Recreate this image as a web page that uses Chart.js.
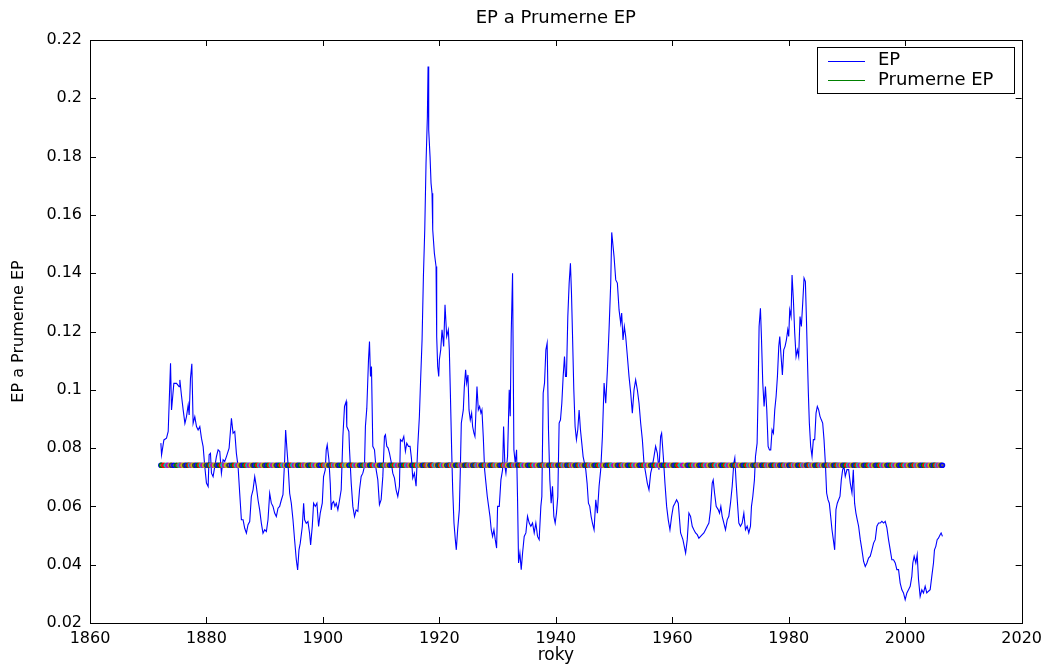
<!DOCTYPE html>
<html>
<head>
<meta charset="utf-8">
<script src="https://cdn.jsdelivr.net/npm/chart.js@4.4.1/dist/chart.umd.min.js"></script>
<style>
  html, body { margin: 0; padding: 0; background: #fff; }
</style>
</head>
<body>
<canvas id="chart" width="1048" height="666"></canvas>
<script>
// data
const years = [
  1872.17, 1872.29, 1872.69, 1873.14, 1873.43, 1873.83, 1874.0, 1874.4, 1874.86, 1875.3,
  1875.43, 1875.7, 1876.0, 1876.3, 1876.57, 1876.86, 1877.03, 1877.26, 1877.49, 1877.71,
  1878.0, 1878.29, 1878.57, 1878.86, 1879.14, 1879.43, 1879.71, 1880.0, 1880.29, 1880.46,
  1880.69, 1880.86, 1881.14, 1881.43, 1881.71, 1882.0, 1882.29, 1882.57, 1882.86, 1883.14,
  1883.43, 1883.89, 1884.29, 1884.57, 1884.86, 1885.14, 1885.43, 1885.71, 1886.0, 1886.29,
  1886.57, 1886.86, 1887.14, 1887.43, 1887.71, 1888.0, 1888.29, 1888.57, 1888.86, 1889.14,
  1889.43, 1889.71, 1890.0, 1890.29, 1890.57, 1890.86, 1891.14, 1891.43, 1891.71, 1892.0,
  1892.29, 1892.57, 1892.86, 1893.14, 1893.43, 1893.6, 1893.83, 1894.0, 1894.29, 1894.57,
  1894.86, 1895.14, 1895.43, 1895.66, 1895.89, 1896.11, 1896.46, 1896.69, 1896.86, 1897.14,
  1897.43, 1897.71, 1897.89, 1898.17, 1898.4, 1898.69, 1898.97, 1899.26, 1899.54, 1899.89,
  1900.11, 1900.4, 1900.57, 1900.74, 1901.03, 1901.26, 1901.43, 1901.6, 1901.83, 1902.06,
  1902.29, 1902.57, 1902.86,
  1903.14, 1903.43, 1903.71, 1904.0, 1904.1, 1904.46, 1904.57, 1904.86, 1905.14, 1905.43,
  1905.71, 1906.0, 1906.29, 1906.57, 1906.86, 1907.14, 1907.3, 1907.54, 1907.83, 1908.0,
  1908.17, 1908.34, 1908.57, 1908.86, 1909.14, 1909.43, 1909.71, 1910.0, 1910.29, 1910.57,
  1910.74, 1910.97, 1911.2, 1911.43, 1911.71, 1912.0, 1912.29, 1912.57, 1912.86, 1913.14,
  1913.31, 1913.6, 1913.89, 1914.17, 1914.4, 1914.69, 1914.97, 1915.2, 1915.43, 1915.71,
  1916.0, 1916.29, 1916.57, 1916.74, 1917.03, 1917.26, 1917.49, 1917.71, 1917.94, 1918.06,
  1918.17, 1918.4, 1918.57, 1918.74, 1918.86, 1919.14, 1919.43, 1919.54, 1919.71, 1919.89,
  1920.0, 1920.23, 1920.46, 1920.74, 1920.97, 1921.26, 1921.54, 1921.71, 1921.89, 1922.11,
  1922.29, 1922.51, 1922.74, 1922.91, 1923.14, 1923.43, 1923.6, 1923.77, 1924.11, 1924.29,
  1924.51, 1924.69, 1924.91, 1925.09, 1925.31, 1925.54, 1925.71, 1925.94, 1926.11, 1926.29,
  1926.46, 1926.69, 1926.91, 1927.14, 1927.31, 1927.54, 1927.77, 1928.0, 1928.23, 1928.46,
  1928.69, 1928.91, 1929.14, 1929.37, 1929.6, 1929.83, 1930.0,
  1930.29, 1930.57, 1930.86, 1931.03, 1931.26, 1931.43, 1931.71, 1932.0, 1932.17, 1932.34,
  1932.57, 1932.8, 1933.03, 1933.26, 1933.43, 1933.6, 1933.83, 1934.06, 1934.29, 1934.57,
  1934.86, 1935.14, 1935.43, 1935.71, 1936.0, 1936.29, 1936.57, 1936.86, 1937.14, 1937.43,
  1937.6, 1937.83, 1938.06, 1938.29, 1938.51, 1938.74, 1938.97, 1939.2, 1939.43, 1939.66,
  1939.89, 1940.11, 1940.34, 1940.57, 1940.8, 1941.03, 1941.26, 1941.49, 1941.66, 1941.83,
  1942.06, 1942.29, 1942.51, 1942.69, 1942.86, 1943.09, 1943.31, 1943.54, 1943.77, 1944.0,
  1944.23, 1944.46, 1944.69, 1944.91, 1945.14, 1945.37, 1945.6, 1945.83, 1946.06, 1946.29,
  1946.57, 1946.86, 1947.14, 1947.43, 1947.71, 1948.0, 1948.29, 1948.57, 1948.86, 1949.14,
  1949.43, 1949.6, 1950.0, 1950.29, 1950.57, 1950.86, 1951.14, 1951.31, 1951.54, 1951.77,
  1952.0, 1952.29, 1952.57, 1952.86, 1953.14, 1953.43, 1953.71, 1954.0, 1954.29, 1954.57,
  1954.86, 1955.14, 1955.43, 1955.71, 1956.0, 1956.29, 1956.57, 1956.86, 1957.14, 1957.43,
  1957.71, 1958.0, 1958.17, 1958.46, 1958.74, 1959.03, 1959.31, 1959.6, 1959.89, 1960.17,
  1960.46, 1960.74, 1961.03,
  1961.43, 1961.83, 1962.29, 1962.57, 1962.86, 1963.14, 1963.43, 1963.71, 1964.0, 1964.29,
  1964.57, 1964.86, 1965.14, 1965.43, 1965.71, 1966.0, 1966.29, 1966.57, 1966.86, 1967.03,
  1967.26, 1967.54, 1967.89, 1968.11, 1968.34, 1968.57, 1968.86, 1969.14, 1969.43, 1969.71,
  1970.0, 1970.29, 1970.57, 1970.74, 1970.97, 1971.2, 1971.43, 1971.71, 1972.0, 1972.29,
  1972.57, 1972.86, 1973.14, 1973.43, 1973.6, 1973.83, 1974.11, 1974.29, 1974.57, 1974.74,
  1974.91, 1975.14, 1975.31, 1975.54, 1975.77, 1976.0, 1976.23, 1976.46, 1976.69, 1976.91,
  1977.14, 1977.37, 1977.6, 1977.83, 1978.06, 1978.29, 1978.46, 1978.69, 1978.91, 1979.14,
  1979.37, 1979.6, 1979.83, 1980.0, 1980.17, 1980.4, 1980.57, 1980.8, 1981.03, 1981.26,
  1981.49, 1981.71, 1981.94, 1982.17, 1982.4, 1982.63, 1982.86, 1983.03, 1983.2, 1983.37,
  1983.54, 1983.77, 1984.0, 1984.23, 1984.46, 1984.69, 1984.91, 1985.14, 1985.37, 1985.6,
  1985.83, 1986.06, 1986.29, 1986.51, 1986.74, 1986.97, 1987.2, 1987.43, 1987.66, 1987.89,
  1988.11, 1988.34, 1988.57, 1988.8, 1989.03, 1989.26, 1989.49, 1989.71, 1990.0, 1990.29,
  1990.57, 1990.86, 1991.09, 1991.31, 1991.54, 1991.77, 1992.0, 1992.29, 1992.57, 1992.86,
  1993.14, 1993.43, 1993.71, 1994.0, 1994.29, 1994.57, 1994.86, 1995.14, 1995.43, 1995.71,
  1996.0, 1996.29, 1996.57, 1996.86, 1997.14, 1997.43, 1997.71, 1998.0, 1998.29, 1998.57,
  1998.86, 1999.14, 1999.43, 1999.71, 2000.0, 2000.29, 2000.57, 2000.86, 2001.14, 2001.31,
  2001.54, 2001.83, 2002.06, 2002.29, 2002.57, 2002.86, 2003.14, 2003.43, 2003.71, 2004.0,
  2004.29, 2004.57, 2004.86, 2005.03, 2005.26, 2005.49, 2005.71, 2006.0, 2006.17, 2006.4
];

const ep = [
  0.0817, 0.0777, 0.0828, 0.0834, 0.0857, 0.1091, 0.0931, 0.1022, 0.1022, 0.1011,
  0.1034, 0.0982, 0.0931, 0.0885, 0.0908, 0.0948, 0.0914, 0.1040, 0.1089, 0.0885,
  0.0908, 0.0874, 0.0862, 0.0874, 0.0834, 0.0805, 0.0737, 0.0680, 0.0668, 0.0777,
  0.0782, 0.0714, 0.0702, 0.0737, 0.0771, 0.0794, 0.0788, 0.0714, 0.0760, 0.0754,
  0.0771, 0.0800, 0.0902, 0.0851, 0.0857, 0.0782, 0.0737, 0.0645, 0.0554, 0.0554,
  0.0525, 0.0508, 0.0537, 0.0548, 0.0634, 0.0657, 0.0702, 0.0668, 0.0622, 0.0588,
  0.0542, 0.0508, 0.0520, 0.0514, 0.0554, 0.0645, 0.0611, 0.0600, 0.0577, 0.0565,
  0.0594, 0.0600, 0.0622, 0.0640, 0.0760, 0.0862, 0.0794, 0.0748, 0.0645, 0.0611,
  0.0554, 0.0485, 0.0417, 0.0382, 0.0451, 0.0474, 0.0531, 0.0611, 0.0554, 0.0542,
  0.0548, 0.0508, 0.0468, 0.0531, 0.0611, 0.0600, 0.0611, 0.0531, 0.0577, 0.0611,
  0.0702, 0.0725, 0.0794, 0.0811, 0.0760, 0.0680, 0.0588, 0.0611, 0.0617, 0.0600,
  0.0611, 0.0588, 0.0622,
  0.0657, 0.0840, 0.0943, 0.0960, 0.0874, 0.0857, 0.0794, 0.0680, 0.0600, 0.0565,
  0.0588, 0.0583, 0.0657, 0.0703, 0.0714, 0.0737, 0.0874, 0.0937, 0.1103, 0.1166,
  0.1046, 0.1080, 0.0806, 0.0794, 0.0726, 0.0691, 0.0606, 0.0623, 0.0703, 0.0840,
  0.0846, 0.0806, 0.0800, 0.0783, 0.0754, 0.0714, 0.0697, 0.0657, 0.0634, 0.0669,
  0.0829, 0.0823, 0.0840, 0.0789, 0.0817, 0.0806, 0.0806, 0.0766, 0.0697, 0.0714,
  0.0669, 0.0806, 0.0909, 0.1011, 0.1172, 0.1389, 0.1549, 0.1777, 0.1937, 0.2109,
  0.1891, 0.1800, 0.1709, 0.1674, 0.1549, 0.1469, 0.1423, 0.1183, 0.1080, 0.1046,
  0.1103, 0.1137, 0.1206, 0.1149, 0.1292, 0.1183, 0.1206, 0.1137, 0.0989, 0.0794,
  0.0657, 0.0543, 0.0486, 0.0451, 0.0520, 0.0589, 0.0726, 0.0886, 0.0931, 0.1011,
  0.1069, 0.1023, 0.1051, 0.0931, 0.0897, 0.0920, 0.0874, 0.0851, 0.0840, 0.0931,
  0.1011, 0.0931, 0.0943, 0.0920, 0.0931, 0.0840, 0.0726, 0.0680, 0.0634, 0.0600,
  0.0566, 0.0520, 0.0497, 0.0520, 0.0486, 0.0457, 0.0600,
  0.0600, 0.0691, 0.0726, 0.0874, 0.0737, 0.0714, 0.0771, 0.1000, 0.0909, 0.1194,
  0.1400, 0.0794, 0.0749, 0.0794, 0.0623, 0.0406, 0.0440, 0.0383, 0.0440, 0.0497,
  0.0509, 0.0566, 0.0543, 0.0532, 0.0543, 0.0509, 0.0543, 0.0497, 0.0486, 0.0600,
  0.0634, 0.0989, 0.1023, 0.1137, 0.1160, 0.0863, 0.0691, 0.0611, 0.0669, 0.0566,
  0.0543, 0.0577, 0.0634, 0.0886, 0.0897, 0.0954, 0.1046, 0.1114, 0.1046, 0.1046,
  0.1251, 0.1366, 0.1434, 0.1331, 0.1194, 0.1000, 0.0874, 0.0829, 0.0863, 0.0931,
  0.0863, 0.0817, 0.0771, 0.0749, 0.0726, 0.0680, 0.0611, 0.0600, 0.0566, 0.0543,
  0.0520, 0.0623, 0.0577, 0.0669, 0.0726, 0.0840, 0.1023, 0.0954, 0.1069, 0.1206,
  0.1366, 0.1540, 0.1457, 0.1377, 0.1366, 0.1274, 0.1229, 0.1263, 0.1171, 0.1217,
  0.1183, 0.1114, 0.1046, 0.0989, 0.0920, 0.1000, 0.1034, 0.1000, 0.0954, 0.0886,
  0.0829, 0.0749, 0.0714, 0.0680, 0.0657, 0.0714, 0.0737, 0.0771, 0.0806, 0.0783,
  0.0726, 0.0840, 0.0851, 0.0771, 0.0680, 0.0600, 0.0554, 0.0520, 0.0566, 0.0600,
  0.0611, 0.0623, 0.0611,
  0.0509, 0.0486, 0.0440, 0.0486, 0.0577, 0.0566, 0.0532, 0.0520, 0.0509, 0.0503,
  0.0491, 0.0497, 0.0503, 0.0509, 0.0520, 0.0532, 0.0543, 0.0589, 0.0680, 0.0691,
  0.0646, 0.0600, 0.0589, 0.0577, 0.0600, 0.0566, 0.0543, 0.0520, 0.0554, 0.0566,
  0.0611, 0.0669, 0.0749, 0.0766, 0.0680, 0.0611, 0.0543, 0.0532, 0.0543, 0.0577,
  0.0520, 0.0532, 0.0509, 0.0532, 0.0600, 0.0634, 0.0691, 0.0771, 0.0817, 0.0989,
  0.1217, 0.1280, 0.1183, 0.1023, 0.0943, 0.1011, 0.0931, 0.0806, 0.0794, 0.0794,
  0.0863, 0.0851, 0.0931, 0.0977, 0.1046, 0.1149, 0.1183, 0.1114, 0.1051, 0.1137,
  0.1149, 0.1171, 0.1206, 0.1183, 0.1274, 0.1251, 0.1394, 0.1309, 0.1194, 0.1114,
  0.1137, 0.1114, 0.1251, 0.1217, 0.1297, 0.1383, 0.1371, 0.1251, 0.1114, 0.0989,
  0.0886, 0.0806, 0.0771, 0.0829, 0.0829, 0.0920, 0.0943, 0.0931, 0.0909, 0.0897,
  0.0886, 0.0829, 0.0749, 0.0646, 0.0623, 0.0611, 0.0566, 0.0520, 0.0486, 0.0451,
  0.0589, 0.0611, 0.0623, 0.0634, 0.0691, 0.0726, 0.0737, 0.0703, 0.0726, 0.0726,
  0.0680, 0.0646, 0.0726, 0.0611, 0.0577, 0.0554, 0.0532, 0.0486, 0.0451, 0.0411,
  0.0394, 0.0406, 0.0423, 0.0429, 0.0451, 0.0474, 0.0486, 0.0532, 0.0543, 0.0543,
  0.0549, 0.0543, 0.0549, 0.0526, 0.0486, 0.0451, 0.0417, 0.0417, 0.0406, 0.0383,
  0.0383, 0.0337, 0.0314, 0.0303, 0.0280, 0.0303, 0.0314, 0.0326, 0.0360, 0.0406,
  0.0429, 0.0406, 0.0434, 0.0349, 0.0291, 0.0314, 0.0303, 0.0326, 0.0303, 0.0309,
  0.0314, 0.0360, 0.0406, 0.0451, 0.0463, 0.0486, 0.0491, 0.0503, 0.0509, 0.0497
];

const avgEP = 0.0741;

const xTicks = [1860, 1880, 1900, 1920, 1940, 1960, 1980, 2000, 2020];
const yTicks = [0.02, 0.04, 0.06, 0.08, 0.1, 0.12, 0.14, 0.16, 0.18, 0.2, 0.22];

// old matlab color order, used for the markers on the average line
const markerColors = ['#0000ff', '#008000', '#ff0000', '#00bfbf', '#bf00bf', '#bfbf00', '#404040'];

const epPoints = years.map((y, i) => ({ x: y, y: ep[i] }));
const avgPoints = years.map(y => ({ x: y, y: avgEP }));

// box, inward ticks and legend, matlab style
const frame = {
  id: 'frame',
  afterDraw(chart) {
    const { ctx, chartArea: a, scales } = chart;
    ctx.save();
    ctx.strokeStyle = '#000';
    ctx.lineWidth = 1;
    ctx.strokeRect(Math.round(a.left) + 0.5, Math.round(a.top) + 0.5,
      Math.round(a.right - a.left), Math.round(a.bottom - a.top));

    const tl = 6;
    ctx.beginPath();
    xTicks.forEach(v => {
      const px = Math.round(scales.x.getPixelForValue(v)) + 0.5;
      ctx.moveTo(px, a.bottom); ctx.lineTo(px, a.bottom - tl);
      ctx.moveTo(px, a.top); ctx.lineTo(px, a.top + tl);
    });
    yTicks.forEach(v => {
      const py = Math.round(scales.y.getPixelForValue(v)) + 0.5;
      ctx.moveTo(a.left, py); ctx.lineTo(a.left + tl, py);
      ctx.moveTo(a.right, py); ctx.lineTo(a.right - tl, py);
    });
    ctx.stroke();

    // legend
    const lx = 817.5, ly = 47.5, lw = 197, lh = 46;
    ctx.fillStyle = '#fff';
    ctx.fillRect(lx, ly, lw, lh);
    ctx.strokeRect(lx, ly, lw, lh);
    const items = [
      { label: 'EP', color: '#0000ff' },
      { label: 'Prumerne EP', color: '#008000' }
    ];
    ctx.font = '18px "DejaVu Sans"';
    ctx.textBaseline = 'middle';
    items.forEach((it, i) => {
      const y = 60.5 + i * 19.5;
      ctx.strokeStyle = it.color;
      ctx.beginPath();
      ctx.moveTo(828, Math.round(y) + 0.5);
      ctx.lineTo(865, Math.round(y) + 0.5);
      ctx.stroke();
      ctx.fillStyle = '#000';
      ctx.fillText(it.label, 878, y);
    });
    ctx.restore();
  }
};

new Chart(document.getElementById('chart'), {
  type: 'line',
  data: {
    datasets: [
      {
        label: 'EP',
        data: epPoints,
        borderColor: '#0000ff',
        borderWidth: 1.1,
        pointRadius: 0,
        tension: 0,
        order: 2
      },
      {
        label: 'Prumerne EP',
        data: avgPoints,
        showLine: false,
        borderColor: '#008000',
        pointRadius: 2,
        pointBorderWidth: 1.6,
        pointBackgroundColor: 'rgba(128,128,128,0.5)',
        pointBorderColor: avgPoints.map((p, i) => markerColors[i % markerColors.length]),
        order: 1
      }
    ]
  },
  options: {
    responsive: false,
    animation: false,
    events: [],
    layout: { padding: { left: 0, right: 24, top: 0, bottom: 0 } },
    plugins: {
      legend: { display: false },
      tooltip: { enabled: false },
      title: {
        display: true,
        text: 'EP a Prumerne EP',
        fullSize: false,
        color: '#000',
        font: { family: 'DejaVu Sans', size: 18, weight: 'normal', lineHeight: 1.2 },
        padding: { top: 8, bottom: 10.4 }
      }
    },
    scales: {
      x: {
        type: 'linear',
        min: 1860,
        max: 2020,
        afterBuildTicks: s => { s.ticks = xTicks.map(v => ({ value: v })); },
        afterFit: s => { s.height = 43; },
        grid: { display: false, drawTicks: false },
        border: { display: false },
        ticks: {
          color: '#000',
          padding: 6,
          maxRotation: 0,
          autoSkip: false,
          font: { family: 'DejaVu Sans', size: 16 },
          callback: v => String(v)
        },
        title: {
          display: true,
          text: 'roky',
          color: '#000',
          font: { family: 'DejaVu Sans', size: 17, lineHeight: 1.2 },
          padding: { top: 0, bottom: 0 }
        }
      },
      y: {
        type: 'linear',
        min: 0.02,
        max: 0.22,
        afterBuildTicks: s => { s.ticks = yTicks.map(v => ({ value: v })); },
        afterFit: s => { s.width = 90; },
        grid: { display: false, drawTicks: false },
        border: { display: false },
        ticks: {
          color: '#000',
          padding: 8,
          autoSkip: false,
          font: { family: 'DejaVu Sans', size: 16 },
          callback: v => String(+v.toFixed(2))
        },
        title: {
          display: true,
          text: 'EP a Prumerne EP',
          color: '#000',
          font: { family: 'DejaVu Sans', size: 16, lineHeight: 1.2 },
          padding: { top: 9, bottom: 0 }
        }
      }
    }
  },
  plugins: [frame]
});
</script>
</body>
</html>
